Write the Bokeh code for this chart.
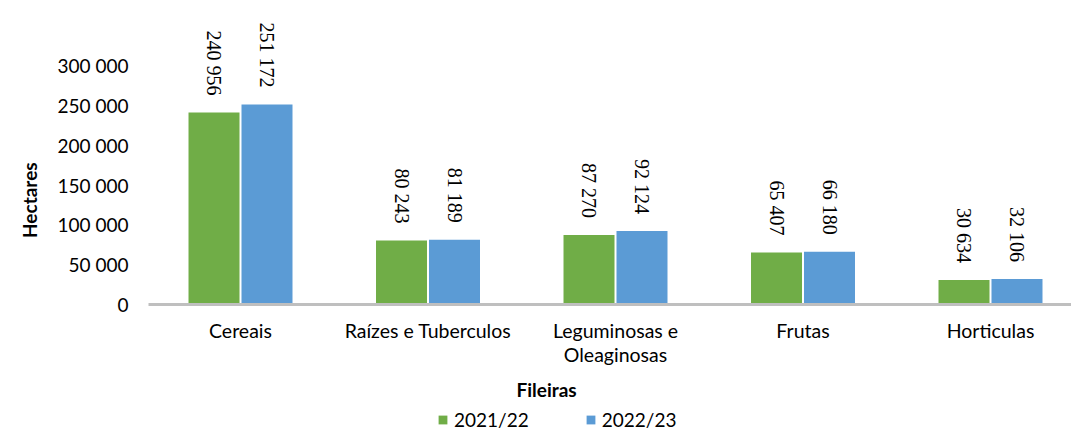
import math
from bokeh.plotting import figure
from bokeh.layouts import column
from bokeh.models import (ColumnDataSource, Range1d, FixedTicker, LabelSet, Title,
                          Legend, LegendItem)
from bokeh.transform import dodge
from bokeh.embed import file_html
from bokeh.resources import INLINE

categories = ["Cereais", "Raízes e Tuberculos", "Leguminosas e\nOleaginosas", "Frutas", "Horticulas"]
series_names = ["2021/22", "2022/23"]
values_2021 = [240956, 80243, 87270, 65407, 30634]
values_2022 = [251172, 81189, 92124, 66180, 32106]
y_ticks = [0, 50000, 100000, 150000, 200000, 250000, 300000]

GREEN = "#70AD47"
BLUE = "#5B9BD5"
FONT = "Lato"

def fmt(v):
    return f"{v:,}".replace(",", " ")

xs = list(range(len(categories)))
src = ColumnDataSource(dict(
    x=xs,
    v1=values_2021, v2=values_2022,
    t1=[fmt(v) for v in values_2021], t2=[fmt(v) for v in values_2022],
))

H1 = 408
p = figure(width=1071, height=H1, output_backend="svg", toolbar_location=None,
           x_range=Range1d(-0.4907, 4.432), y_range=Range1d(0, 381590),
           min_border_left=148, min_border_right=0, min_border_top=0, min_border_bottom=104)
p.outline_line_color = None
p.grid.visible = False
p.background_fill_color = "white"

off = 0.1413
bw = 0.272
r1 = p.vbar(x=dodge("x", -off, range=p.x_range), top="v1", width=bw, source=src,
            fill_color=GREEN, line_color=None)
r2 = p.vbar(x=dodge("x", off, range=p.x_range), top="v2", width=bw, source=src,
            fill_color=BLUE, line_color=None)

for col, d in (("t1", -off), ("t2", off)):
    ls = LabelSet(x=dodge("x", d, range=p.x_range), y="v" + col[1], text=col, source=src,
                  angle=-math.pi / 2, text_align="right", text_baseline="middle",
                  y_offset=17, text_font=FONT, text_font_size="20px", text_color="#000000")
    p.add_layout(ls)

# y axis
ya = p.yaxis[0]
ya.ticker = FixedTicker(ticks=y_ticks)
ya.major_label_overrides = {v: fmt(v) for v in y_ticks}
ya.axis_line_color = None
ya.major_tick_line_color = None
ya.minor_tick_line_color = None
ya.major_tick_out = 0
ya.major_tick_in = 0
ya.major_label_standoff = 20
ya.major_label_text_font = FONT
ya.major_label_text_font_size = "19px"
ya.major_label_text_color = "#000000"

# x axis
xa = p.xaxis[0]
xa.ticker = FixedTicker(ticks=xs)
xa.major_label_overrides = {i: c for i, c in enumerate(categories)}
xa.axis_line_color = "#BFBFBF"
xa.axis_line_width = 3
xa.major_tick_line_color = None
xa.minor_tick_line_color = None
xa.major_tick_out = 0
xa.major_tick_in = 0
xa.major_label_standoff = 14
xa.major_label_text_font = FONT
xa.major_label_text_font_size = "19.5px"
xa.major_label_text_color = "#000000"
xa.major_label_text_line_height = 1.05

p.add_layout(Title(text="Hectares", align="left", offset=66.5, standoff=28, text_font=FONT,
                   text_font_style="bold", text_font_size="19px", text_color="#000000"), "left")
p.add_layout(Title(text="Fileiras", align="left", offset=368, standoff=15, text_font=FONT,
                   text_font_style="bold", text_font_size="19px", text_color="#000000"), "below")

# legend strip: hidden copies of the bar renderers supply the legend swatches
p2 = figure(width=1071, height=431 - H1, output_backend="svg", toolbar_location=None,
            x_range=Range1d(-0.5, 4.5), y_range=Range1d(0, 300000),
            min_border_left=0, min_border_right=0, min_border_top=0, min_border_bottom=0)
p2.outline_line_color = None
p2.axis.visible = False
p2.grid.visible = False
g1 = p2.vbar(x="x", top="v1", width=bw, source=src, fill_color=GREEN, line_color=None)
g2 = p2.vbar(x="x", top="v2", width=bw, source=src, fill_color=BLUE, line_color=None)
g1.visible = False
g2.visible = False
legend = Legend(items=[LegendItem(label=series_names[0], renderers=[g1]),
                       LegendItem(label=series_names[1], renderers=[g2])],
                orientation="horizontal", location=(289, 0), click_policy="none",
                inactive_fill_alpha=0,
                padding=0, margin=0, border_line_color=None, background_fill_alpha=0,
                glyph_width=11, glyph_height=11, label_standoff=6, spacing=56,
                label_text_font=FONT, label_text_font_size="19px", label_text_color="#000000",
                label_height=20)
p2.add_layout(legend)

layout = column(p, p2, spacing=0)
open("out.html", "w").write(file_html(layout, INLINE))
